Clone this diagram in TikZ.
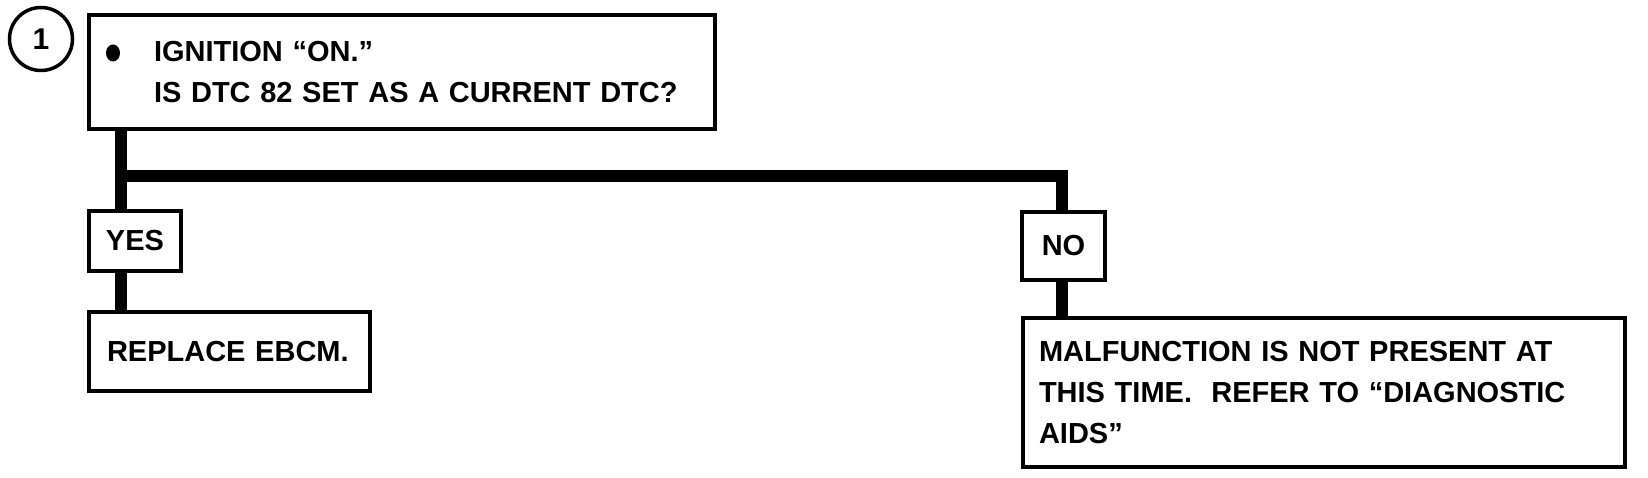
\documentclass[tikz,border=0pt]{standalone}
\usepackage{fontspec}
\setmainfont{Liberation Sans}
\begin{document}
\begin{tikzpicture}[x=1pt,y=-1pt,
  txt/.style={font=\bfseries\fontsize{29}{41}\selectfont},
  box/.style={draw, line width=4pt, rectangle, outer sep=0pt, inner sep=0pt, txt},
  textbox/.style={box, align=left},
  link/.style={line width=12pt}]
\fill[white] (0,0) rectangle (1648,478);
\useasboundingbox (0,0) rectangle (1648,478);

% step number
\node[draw, circle, line width=3.5pt, minimum size=63pt, inner sep=0pt, outer sep=0pt,
      font=\bfseries\fontsize{30}{36}\selectfont] (num) at (41,39) {1};

% question box
\node[textbox, minimum width=626pt, minimum height=114pt, text width=622pt] (q) at (402,72)
  {\hspace*{63pt}IGNITION “ON.”\\\hspace*{63pt}IS DTC 82 SET AS A CURRENT DTC?};
\fill (113,53) ellipse [x radius=7pt, y radius=8.5pt];

% answer boxes
\node[box, minimum width=92pt, minimum height=60pt] (yes) at (135,241) {YES};
\node[box, minimum width=83pt, minimum height=68pt] (no) at (1063.5,246) {NO};

% result boxes
\node[textbox, minimum width=281pt, minimum height=79pt, text width=277pt] (rep) at (229.5,351.5)
  {\hspace*{16pt}REPLACE EBCM.};
\node[textbox, minimum width=602pt, minimum height=149pt, text width=598pt] (malf) at (1324,392.5)
  {\hspace*{14pt}MALFUNCTION IS NOT PRESENT AT\\
   \hspace*{14pt}THIS TIME.\ \ REFER TO “DIAGNOSTIC\\
   \hspace*{14pt}AIDS”};

% connectors
\coordinate (j1) at (121,176);
\coordinate (j2) at (1062,176);
\draw[link] (j1 |- q.south) -- (j1 |- yes.north);
\draw[link, line join=miter] (j1) -- (j2) -- (j2 |- no.north);
\draw[link] (j1 |- yes.south) -- (j1 |- rep.north);
\draw[link] (j2 |- no.south) -- (j2 |- malf.north);
\end{tikzpicture}
\end{document}
